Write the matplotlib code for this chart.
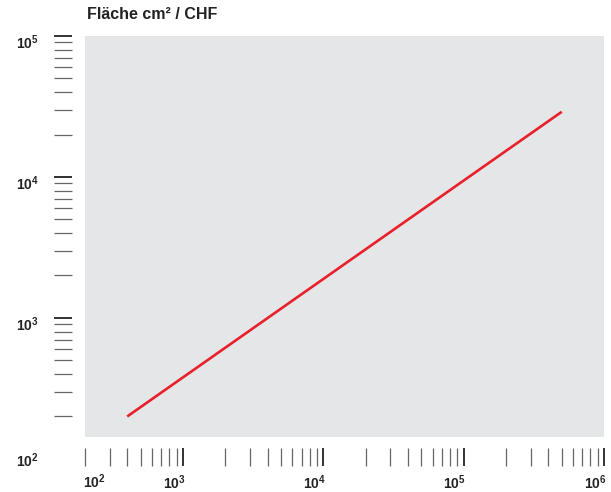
import matplotlib
matplotlib.use("Agg")
import matplotlib.pyplot as plt
from matplotlib.ticker import LogLocator, NullFormatter
import matplotlib.transforms as mtrans

plt.rcParams['font.family'] = ['Liberation Sans', 'DejaVu Sans']
plt.rcParams['mathtext.fontset'] = 'custom'
plt.rcParams['mathtext.bf'] = 'Liberation Sans:bold'
plt.rcParams['mathtext.rm'] = 'Liberation Sans:bold'

# data
line_x = [400, 500000]
line_y = [200, 29000]
x_major = [1e3, 1e4, 1e5, 1e6]
x_labels = [r'$\mathbf{10^{3}}$', r'$\mathbf{10^{4}}$', r'$\mathbf{10^{5}}$', r'$\mathbf{10^{6}}$']
y_major = [1e3, 1e4, 1e5]
y_labels = [r'$\mathbf{10^{3}}$', r'$\mathbf{10^{4}}$', r'$\mathbf{10^{5}}$']
corner_label = r'$\mathbf{10^{2}}$'
title = 'Fläche cm² / CHF'

PX = 0.72  # points per pixel at dpi 100

fig = plt.figure(figsize=(6.11, 4.92), dpi=100)
ax = fig.add_axes([85/611, 1-437/492, 519/611, 401/492])
ax.set_facecolor('#e5e6e8')

ax.plot(line_x, line_y, color='#e8202a', lw=1.9, solid_capstyle='butt')

ax.set_xscale('log')
ax.set_yscale('log')
ax.set_xlim(200, 1e6)
ax.set_ylim(143, 1e5)

for s in ax.spines.values():
    s.set_visible(False)
ax.spines['left'].set_position(('outward', 13*PX))
ax.spines['bottom'].set_position(('outward', 11*PX))

ax.set_xticks(x_major)
ax.set_xticklabels(x_labels)
ax.set_yticks(y_major)
ax.set_yticklabels(y_labels)
ax.xaxis.set_minor_locator(LogLocator(base=10, subs=range(2, 10)))
ax.yaxis.set_minor_locator(LogLocator(base=10, subs=range(2, 10)))
ax.xaxis.set_minor_formatter(NullFormatter())
ax.yaxis.set_minor_formatter(NullFormatter())

ax.tick_params(which='major', length=18*PX, width=1.3, color='#222222', labelsize=10)
ax.tick_params(which='minor', length=18*PX, width=0.9, color='#666666')
ax.tick_params(axis='x', which='major', pad=7*PX)
ax.tick_params(axis='y', which='major', pad=15*PX)

for lab in ax.get_xticklabels() + ax.get_yticklabels():
    lab.set_color('#222222')

# nudge labels like the original (x labels slightly left, y labels slightly down)
for lab in ax.get_xticklabels():
    lab.set_transform(lab.get_transform() + mtrans.ScaledTranslation(-9/100, 0, fig.dpi_scale_trans))
for lab in ax.get_yticklabels():
    lab.set_transform(lab.get_transform() + mtrans.ScaledTranslation(0, -5/100, fig.dpi_scale_trans))

# the two "10²" corner labels
ax.text(200, -0.112, corner_label, transform=mtrans.blended_transform_factory(ax.transData, ax.transAxes)
        + mtrans.ScaledTranslation(9/100, 0, fig.dpi_scale_trans),
        ha='center', va='center', fontsize=10, color='#222222', clip_on=False)
ax.text(-0.089, 100, corner_label, transform=mtrans.blended_transform_factory(ax.transAxes, ax.transData)
        + mtrans.ScaledTranslation(0, -2/100, fig.dpi_scale_trans),
        ha='right', va='center', fontsize=10, color='#222222', clip_on=False)

ax.text(0.003, 1.035, title, transform=ax.transAxes, ha='left', va='bottom',
        fontsize=11.5, fontweight='bold', color='#222222')

fig.savefig('out.png', dpi=100)
